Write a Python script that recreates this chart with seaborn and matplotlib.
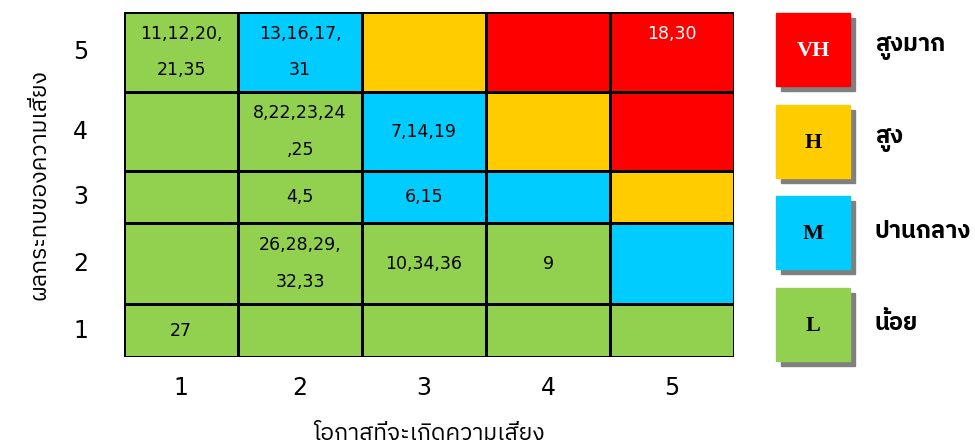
import numpy as np
import pandas as pd
import matplotlib
matplotlib.use("Agg")
import matplotlib.pyplot as plt
from matplotlib import font_manager
from matplotlib.ft2font import FT2Font
from matplotlib.colors import ListedColormap
from matplotlib.patches import Rectangle
import seaborn as sns

# risk matrix data: rows = impact 5..1 (top to bottom), cols = likelihood 1..5
impact = [5, 4, 3, 2, 1]
likelihood = [1, 2, 3, 4, 5]
# level codes: 0 = L, 1 = M, 2 = H, 3 = VH
levels = [
    [0, 1, 2, 3, 3],
    [0, 0, 1, 2, 3],
    [0, 0, 1, 1, 2],
    [0, 0, 0, 0, 1],
    [0, 0, 0, 0, 0],
]
cell_text = [
    ["11,12,20,\n21,35", "13,16,17,\n31", "", "", "18,30\n "],
    ["", "8,22,23,24\n,25", "7,14,19", "", ""],
    ["", "4,5", "6,15", "", ""],
    ["", "26,28,29,\n32,33", "10,34,36", "9", ""],
    ["27", "", "", "", ""],
]
level_codes = ["VH", "H", "M", "L"]
level_names = ["สูงมาก", "สูง", "ปานกลาง", "น้อย"]
level_colors = ["#92D050", "#00CCFF", "#FFCC00", "#FF0000"]  # L, M, H, VH
x_label = "โอกาสที่จะเกิดความเสี่ยง"
y_label = "ผลกระทบของความเสี่ยง"


def find_thai_font():
    found = []
    for f in font_manager.fontManager.ttflist:
        try:
            cmap = FT2Font(f.fname).get_charmap()
        except Exception:
            continue
        if 0x0E01 in cmap and 0x0E2A in cmap:
            found.append(f.name)
    pref = [n for n in found if "Thai" in n] + found
    return pref[0] if pref else "DejaVu Sans"


sns.set_theme(style="white")
thai = find_thai_font()
plt.rcParams["font.family"] = [thai, "DejaVu Sans"]
plt.rcParams["text.color"] = "black"
plt.rcParams["axes.labelcolor"] = "black"
plt.rcParams["xtick.color"] = "black"
plt.rcParams["ytick.color"] = "black"

# pixel sizes of the uneven grid
col_w = [114, 124, 124, 124, 124]
row_h = [80, 79, 52, 81, 53]


def piecewise_scale(sizes):
    idx = np.arange(len(sizes) + 1, dtype=float)
    cum = np.concatenate([[0], np.cumsum(sizes)]).astype(float)
    idx = np.concatenate([[-100.0], idx, [len(sizes) + 100.0]])
    cum = np.concatenate([[-100.0 * sizes[0]], cum, [cum[-1] + 100.0 * sizes[-1]]])
    fwd = lambda v: np.interp(v, idx, cum)
    inv = lambda v: np.interp(v, cum, idx)
    return fwd, inv


fig = plt.figure(figsize=(9.75, 4.44), dpi=100)
ax = fig.add_axes([124 / 975, 1 - 357 / 444, 610 / 975, 345 / 444])
ax.set_xscale("function", functions=piecewise_scale(col_w))
ax.set_yscale("function", functions=piecewise_scale(row_h))

df = pd.DataFrame(levels, index=impact, columns=likelihood)
sns.heatmap(df, ax=ax, cmap=ListedColormap(level_colors), vmin=-0.5, vmax=3.5,
            cbar=False, linewidths=2, linecolor="black",
            annot=np.array(cell_text), fmt="",
            annot_kws={"fontsize": 12.5, "family": "DejaVu Sans", "linespacing": 2.3})
for t in ax.texts:
    if t.get_color() != "w":
        t.set_color("black")

ax.set_xticks(np.arange(5) + 0.5)
ax.set_xticklabels(likelihood, fontsize=17, family="DejaVu Sans")
ax.set_yticks(np.arange(5) + 0.5)
ax.set_yticklabels(impact, fontsize=17, family="DejaVu Sans", rotation=0)
ax.tick_params(length=0, pad=14)
ax.tick_params(axis="y", pad=26)
ax.set_xlabel(x_label, fontsize=16.5, labelpad=16)
ax.set_ylabel(y_label, fontsize=16.5, labelpad=16)

# legend boxes drawn in pixel coordinates
lax = fig.add_axes([0, 0, 1, 1], zorder=-1)
lax.set_xlim(0, 975)
lax.set_ylim(444, 0)
lax.axis("off")
legend_colors = level_colors[::-1]
for i, (code, name) in enumerate(zip(level_codes, level_names)):
    top = 13 + i * 91.7
    lax.add_patch(Rectangle((781, top + 5), 74, 73, color="#808080"))
    lax.add_patch(Rectangle((776, top), 74, 73, color=legend_colors[i]))
    lax.text(813, top + 38, code, ha="center", va="center", fontsize=16,
             fontweight="bold", family="Liberation Serif",
             color="white" if code == "VH" else "black")
    lax.text(875, top + 35, name, ha="left", va="center", fontsize=17,
             fontweight="bold")

fig.savefig("out.png", dpi=100)
